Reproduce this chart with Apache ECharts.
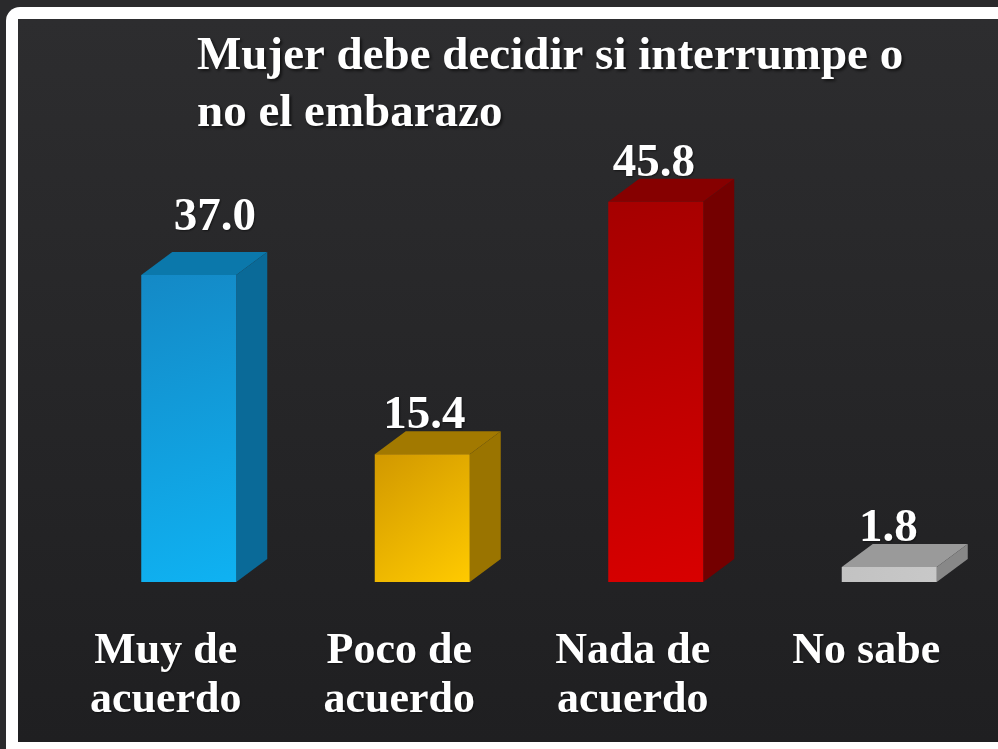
<!DOCTYPE html>
<html>
<head>
<meta charset="utf-8">
<style>
  html, body { margin: 0; padding: 0; background: #2a2a2c; }
  #chart { width: 998px; height: 749px; }
</style>
<script src="https://cdn.jsdelivr.net/npm/echarts@6/dist/echarts.min.js"></script>
</head>
<body>
<div id="chart"></div>
<script>
// data
var categories = ['Muy de\nacuerdo', 'Poco de\nacuerdo', 'Nada de\nacuerdo', 'No sabe'];
var values = [37.0, 15.4, 45.8, 1.8];
var titleText = 'Mujer debe decidir si interrumpe o\nno el embarazo';

// face colours per bar: [front dark, front light, top, side]
var faces = [
  ['#1489c6', '#0fb2f2', '#0b78ab', '#0a6a98'],
  ['#d19800', '#ffca00', '#a27900', '#9a7400'],
  ['#a50000', '#d80000', '#860000', '#740000'],
  ['#c2c2c2', '#c8c8c8', '#9a9a9a', '#888888']
];
// value label nudges (px), the first label sits higher and to the right
var labelNudge = [[24, -19], [0, 0], [-4, 0], [-3, 0]];
var serif = '"Liberation Serif", "DejaVu Serif", serif';
var barW = 95, depthX = 31, depthY = 23, shiftX = 23;

function renderBar(params, api) {
  var i = api.value(0);
  var top = api.coord([i, api.value(1)]);
  var base = api.coord([i, 0]);
  var x0 = top[0] + shiftX - barW / 2, x1 = x0 + barW;
  var y0 = top[1], y1 = base[1];
  var f = faces[i];
  return {
    type: 'group',
    children: [
      { type: 'polygon', shape: { points: [[x0, y0], [x1, y0], [x1 + depthX, y0 - depthY], [x0 + depthX, y0 - depthY]] },
        style: { fill: f[2] } },
      { type: 'polygon', shape: { points: [[x1, y0], [x1 + depthX, y0 - depthY], [x1 + depthX, y1 - depthY], [x1, y1]] },
        style: { fill: f[3] } },
      { type: 'rect', shape: { x: x0, y: y0, width: barW, height: y1 - y0 },
        style: { fill: new echarts.graphic.LinearGradient(0, 0, 1, 1, [
          { offset: 0, color: f[0] }, { offset: 1, color: f[1] }]) } },
      { type: 'text', x: x0 + barW / 2 + 2 + labelNudge[i][0], y: y0 - depthY + 8 + labelNudge[i][1],
        style: { text: api.value(1).toFixed(1), fill: '#ffffff', font: 'bold 47px ' + serif,
          textAlign: 'center', textVerticalAlign: 'bottom',
          textShadowColor: 'rgba(0,0,0,0.5)', textShadowBlur: 2, textShadowOffsetX: 1, textShadowOffsetY: 1 } }
    ]
  };
}

var chart = echarts.init(document.getElementById('chart'));
chart.setOption({
  backgroundColor: '#2a2a2c',
  animation: false,
  graphic: [
    { type: 'rect', shape: { x: 6, y: 7, width: 1010, height: 760, r: 14 }, style: { fill: '#ffffff' }, z: -10 },
    { type: 'rect', shape: { x: 18, y: 19, width: 990, height: 723 },
      style: { fill: new echarts.graphic.LinearGradient(0, 0, 0, 1, [
        { offset: 0, color: '#2d2d2f' }, { offset: 1, color: '#1f1f21' }]) }, z: -9 }
  ],
  title: {
    text: titleText,
    left: 197, top: 28, padding: 0,
    textStyle: { color: '#ffffff', fontFamily: serif, fontWeight: 'bold', fontSize: 47, lineHeight: 57,
      textShadowColor: 'rgba(0,0,0,0.6)', textShadowBlur: 3, textShadowOffsetX: 2, textShadowOffsetY: 2 }
  },
  grid: { left: 49, right: 15, top: 167, bottom: 167 },
  xAxis: {
    type: 'category', data: categories,
    axisLine: { show: false }, axisTick: { show: false },
    axisLabel: { color: '#ffffff', fontFamily: serif, fontWeight: 'bold', fontSize: 44, lineHeight: 49, margin: 45,
      textShadowColor: 'rgba(0,0,0,0.5)', textShadowBlur: 2, textShadowOffsetX: 1, textShadowOffsetY: 1 }
  },
  yAxis: { type: 'value', min: 0, max: 50, show: false, splitLine: { show: false } },
  series: [{
    type: 'custom',
    renderItem: renderBar,
    data: values.map(function (v, i) { return [i, v]; })
  }]
});
</script>
</body>
</html>
